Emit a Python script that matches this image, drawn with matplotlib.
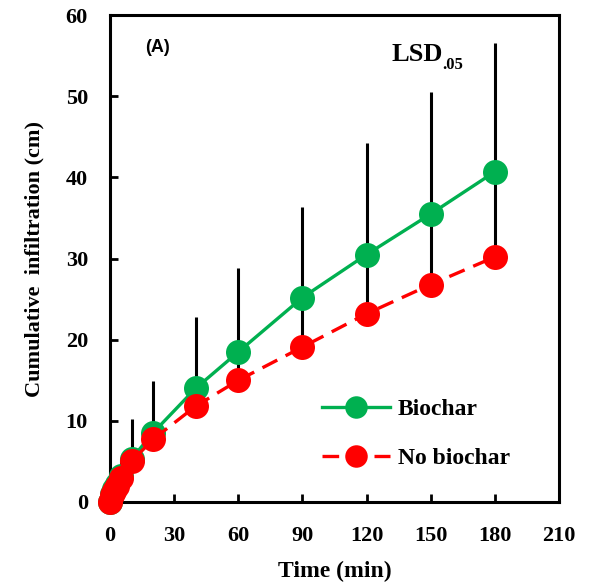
import matplotlib
matplotlib.use("Agg")
import matplotlib.pyplot as plt

time_min = [0, 1, 2, 3, 5, 10, 20, 40, 60, 90, 120, 150, 180]
biochar = [0.0, 1.0, 1.6, 2.2, 3.2, 5.3, 8.5, 14.0, 18.5, 25.2, 30.5, 35.5, 40.7]
no_biochar = [0.0, 0.8, 1.4, 2.0, 3.0, 5.0, 7.7, 11.8, 15.0, 19.1, 23.2, 26.8, 30.2]
lsd_top = [0.0, 1.4, 2.4, 3.5, 5.3, 10.2, 14.9, 22.8, 28.8, 36.3, 44.3, 50.5, 56.6]

xticks = [0, 30, 60, 90, 120, 150, 180, 210]
yticks = [0, 10, 20, 30, 40, 50, 60]

GREEN = "#00B050"
RED = "#FF0000"
serif = "Liberation Serif"

fig = plt.figure(figsize=(5.89, 5.83), dpi=100)
ax = fig.add_axes([0.187, 0.139, 0.762, 0.835])

ax.vlines(time_min, no_biochar, lsd_top, colors="black", linewidth=2.2, zorder=2)
ax.plot(time_min, biochar, color=GREEN, linewidth=2.4, marker="o", markersize=18,
        markeredgewidth=0, label="Biochar", zorder=3, clip_on=False)
ax.plot(time_min, no_biochar, color=RED, linewidth=2.4, linestyle=(0, (5, 2.8)), marker="o",
        markersize=18, markeredgewidth=0, label="No biochar", zorder=4, clip_on=False)

ax.set_xlim(0, 210)
ax.set_ylim(0, 60)
ax.set_xticks(xticks)
ax.set_yticks(yticks)
ax.tick_params(direction="in", length=6, width=2, labelsize=16, pad=17,
               right=False, top=False)
ax.tick_params(axis="y", pad=16)
for lab in ax.get_xticklabels() + ax.get_yticklabels():
    lab.set_fontfamily(serif)
    lab.set_fontweight("bold")
for sp in ax.spines.values():
    sp.set_linewidth(2.2)

ax.set_xlabel("Time (min)", fontfamily=serif, fontweight="bold", fontsize=17, labelpad=11)
ax.set_ylabel("Cumulative  infiltration (cm)", fontfamily=serif, fontweight="bold",
              fontsize=16, labelpad=15)

ax.text(16.5, 56.0, "(A)", fontfamily="Liberation Sans", fontweight="bold", fontsize=13,
        ha="left", va="center")
t = ax.text(131.5, 55.1, "LSD", fontfamily=serif, fontweight="bold", fontsize=19,
            ha="left", va="center")
ax.annotate(".05", xy=(1.0, 0.08), xycoords=t, fontfamily=serif, fontweight="bold",
            fontsize=12, ha="left", va="center")

leg = ax.legend(loc="upper left", bbox_to_anchor=(0.472, 0.212), frameon=False,
                prop={"family": serif, "weight": "bold", "size": 17}, borderpad=0,
                borderaxespad=0, handlelength=2.9, handletextpad=0.3, labelspacing=1.15,
                markerscale=0.9)

fig.savefig("out.png", dpi=100)
